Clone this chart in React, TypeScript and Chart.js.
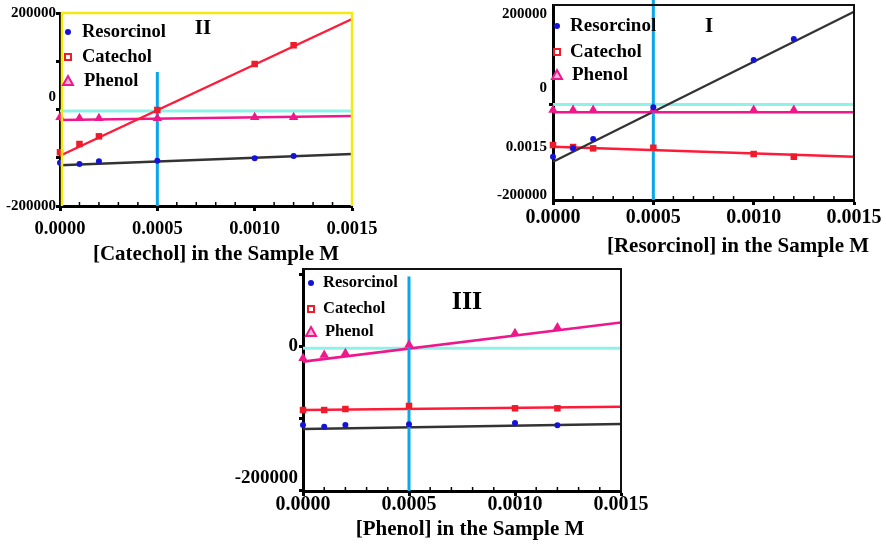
import React, { useEffect, useRef } from "react";
import { Chart, registerables } from "chart.js";

Chart.register(...registerables);
Chart.defaults.font.family = "'Liberation Serif', 'Times New Roman', serif";
Chart.defaults.color = "#000";

// ---------- shared data ----------
const xConc = [0, 0.0001, 0.0002, 0.0005, 0.001, 0.0012];
const fitX = [0, 0.0015];
const seriesNames = ["Resorcinol", "Catechol", "Phenol"];
const xTickValues = [0, 0.0005, 0.001, 0.0015];
const xTickLabels = ["0.0000", "0.0005", "0.0010", "0.0015"];
const minorStep = 0.0001;
const markerX = 0.0005;

// ---------- Panel II (Catechol varied) ----------
const resorcinolII = [-110300, -113000, -107400, -106100, -101200, -96400];
const catecholII = [-88700, -71500, -55600, -1000, 94300, 133100];
const phenolII = [-16200, -18300, -18300, -18300, -16200, -16200];
const resorcinolFitII = [-115700, -92200];
const catecholFitII = [-95800, 187600];
const phenolFitII = [-21800, -13500];
const refLevelII = -3000;
const vLineTopII = 77700;
const yTickValuesII = [200000, 25900, -200000];
const yTickLabelsII = ["200000", "0", "-200000"];
const yTickMarksII = [200000, 100000, 0, -100000, -200000];

// ---------- Panel I (Resorcinol varied) ----------
const resorcinolI = [-115400, -96800, -76200, -6200, 98300, 144800];
const catecholI = [-89500, -93900, -96800, -95500, -109400, -115400];
const phenolI = [-12200, -12200, -12200, -12200, -12200, -12200];
const resorcinolFitI = [-126400, 205100];
const catecholFitI = [-93200, -115400];
const phenolFitI = [-17200, -17200];
const refLevelI = 0;
const vLineTopI = 231000;
const yTickValuesI = [200000, 35800, -93300, -200000];
const yTickLabelsI = ["200000", "0", "0.0015", "-200000"];
const yTickMarksI = [0];

// ---------- Panel III (Phenol varied) ----------
const resorcinolIII = [-109200, -111600, -109200, -108200, -106400, -109600];
const catecholIII = [-88300, -88300, -86900, -82600, -85900, -85900];
const phenolIII = [-16200, -11600, -9200, 2400, 18700, 26500];
const resorcinolFitIII = [-114700, -107800];
const catecholFitIII = [-88300, -83700];
const phenolFitIII = [-20900, 33500];
const refLevelIII = -2200;
const vLineTopIII = 97600;
const yTickValuesIII = [0, -183000];
const yTickLabelsIII = ["0", "-200000"];
const yTickMarksIII = [100000, 0, -100000, -200000];

const COLORS = {
  blueDot: "#1414d8",
  red: "#ee1b2b",
  redLine: "#ff1a38",
  pink: "#f0168c",
  black: "#333333",
  cyan: "#8ef3e6",
  vline: "#0aa6e8",
};

type Box = { left: number; top: number; width: number; height: number };
type Area = { left: number; top: number; right: number; bottom: number };

type PanelCfg = {
  canvas: Box;
  area: Area;
  yMin: number;
  yMax: number;
  resorcinol: number[];
  catechol: number[];
  phenol: number[];
  resorcinolFit: number[];
  catecholFit: number[];
  phenolFit: number[];
  refLevel: number;
  vLineTop: number;
  yTickValues: number[];
  yTickLabels: string[];
  yTickMarks: number[];
  yTickSize: number;
  yTickPad: number;
  xTickSize: number;
  xTickPad: number;
  frame: "yellow" | "black";
  title: string;
  titlePos: [number, number];
  panelLabel: string;
  labelPos: [number, number];
  labelSize: number;
  legendMarkerX: number;
  legendTextX: number;
  legendRows: number[];
  legendSize: number;
};

const panels: PanelCfg[] = [
  {
    canvas: { left: 0, top: 0, width: 385, height: 265 },
    area: { left: 60, top: 13, right: 352, bottom: 206 },
    yMin: -200000,
    yMax: 200000,
    resorcinol: resorcinolII,
    catechol: catecholII,
    phenol: phenolII,
    resorcinolFit: resorcinolFitII,
    catecholFit: catecholFitII,
    phenolFit: phenolFitII,
    refLevel: refLevelII,
    vLineTop: vLineTopII,
    yTickValues: yTickValuesII,
    yTickLabels: yTickLabelsII,
    yTickMarks: yTickMarksII,
    yTickSize: 15,
    yTickPad: 0,
    xTickSize: 18.5,
    xTickPad: 7,
    frame: "yellow",
    title: "[Catechol] in the Sample M",
    titlePos: [216, 255],
    panelLabel: "II",
    labelPos: [203, 29],
    labelSize: 21,
    legendMarkerX: 68,
    legendTextX: 82,
    legendRows: [32, 57, 81],
    legendSize: 18.5,
  },
  {
    canvas: { left: 490, top: -12, width: 396, height: 272 },
    area: { left: 553, top: 5, right: 854, bottom: 200 },
    yMin: -211000,
    yMax: 220000,
    resorcinol: resorcinolI,
    catechol: catecholI,
    phenol: phenolI,
    resorcinolFit: resorcinolFitI,
    catecholFit: catecholFitI,
    phenolFit: phenolFitI,
    refLevel: refLevelI,
    vLineTop: vLineTopI,
    yTickValues: yTickValuesI,
    yTickLabels: yTickLabelsI,
    yTickMarks: yTickMarksI,
    yTickSize: 15,
    yTickPad: 2,
    xTickSize: 20,
    xTickPad: 1,
    frame: "black",
    title: "[Resorcinol] in the Sample M",
    titlePos: [738, 247],
    panelLabel: "I",
    labelPos: [709, 27],
    labelSize: 21,
    legendMarkerX: 557,
    legendTextX: 570,
    legendRows: [26, 52, 75],
    legendSize: 19,
  },
  {
    canvas: { left: 225, top: 256, width: 430, height: 290 },
    area: { left: 303, top: 269, right: 621, bottom: 491 },
    yMin: -201000,
    yMax: 108000,
    resorcinol: resorcinolIII,
    catechol: catecholIII,
    phenol: phenolIII,
    resorcinolFit: resorcinolFitIII,
    catecholFit: catecholFitIII,
    phenolFit: phenolFitIII,
    refLevel: refLevelIII,
    vLineTop: vLineTopIII,
    yTickValues: yTickValuesIII,
    yTickLabels: yTickLabelsIII,
    yTickMarks: yTickMarksIII,
    yTickSize: 19,
    yTickPad: 1,
    xTickSize: 20,
    xTickPad: -3,
    frame: "black",
    title: "[Phenol] in the Sample M",
    titlePos: [470, 530],
    panelLabel: "III",
    labelPos: [467, 302],
    labelSize: 26,
    legendMarkerX: 311,
    legendTextX: 323,
    legendRows: [283, 309, 332],
    legendSize: 16.5,
  },
];

function drawMarker(ctx: CanvasRenderingContext2D, kind: number, x: number, y: number) {
  ctx.save();
  if (kind === 0) {
    ctx.fillStyle = COLORS.blueDot;
    ctx.beginPath();
    ctx.arc(x, y, 3, 0, Math.PI * 2);
    ctx.fill();
  } else if (kind === 1) {
    ctx.fillStyle = "#fff";
    ctx.strokeStyle = COLORS.red;
    ctx.lineWidth = 2;
    ctx.fillRect(x - 3, y - 3, 6, 6);
    ctx.strokeRect(x - 3, y - 3, 6, 6);
  } else {
    ctx.fillStyle = "#f9b6d8";
    ctx.strokeStyle = COLORS.pink;
    ctx.lineWidth = 2;
    ctx.beginPath();
    ctx.moveTo(x, y - 5);
    ctx.lineTo(x + 5, y + 4);
    ctx.lineTo(x - 5, y + 4);
    ctx.closePath();
    ctx.fill();
    ctx.stroke();
  }
  ctx.restore();
}

function Panel({ cfg }: { cfg: PanelCfg }) {
  const ref = useRef<HTMLCanvasElement>(null);

  useEffect(() => {
    const c = cfg;
    const cl = c.canvas.left;
    const ct = c.canvas.top;
    const pts = (ys: number[]) => xConc.map((x, i) => ({ x, y: ys[i] }));
    const fit = (ys: number[]) => fitX.map((x, i) => ({ x, y: ys[i] }));
    const allYTicks = Array.from(new Set([...c.yTickValues, ...c.yTickMarks]));

    const overlay = {
      id: "overlay",
      afterDraw(chart: any) {
        const ctx: CanvasRenderingContext2D = chart.ctx;
        const a = chart.chartArea;
        const xs = chart.scales.x;
        ctx.save();
        if (c.frame === "yellow") {
          ctx.strokeStyle = "#f4ea12";
          ctx.lineWidth = 2.5;
          ctx.beginPath();
          ctx.moveTo(a.left + 2, a.bottom);
          ctx.lineTo(a.left + 2, a.top);
          ctx.lineTo(a.right, a.top);
          ctx.lineTo(a.right, a.bottom);
          ctx.stroke();
        } else {
          ctx.strokeStyle = "#111";
          ctx.lineWidth = 2;
          ctx.beginPath();
          ctx.moveTo(a.left, a.top);
          ctx.lineTo(a.right, a.top);
          ctx.lineTo(a.right, a.bottom);
          ctx.stroke();
        }
        // minor inward ticks on x axis
        ctx.strokeStyle = "#000";
        ctx.lineWidth = 1.5;
        const n = Math.round(0.0015 / minorStep);
        for (let k = 1; k < n; k++) {
          if (k % 5 === 0) continue;
          const px = xs.getPixelForValue(k * minorStep);
          ctx.beginPath();
          ctx.moveTo(px, a.bottom - 1);
          ctx.lineTo(px, a.bottom - 4);
          ctx.stroke();
        }
        // legend
        ctx.textBaseline = "middle";
        ctx.textAlign = "left";
        ctx.font = `bold ${c.legendSize}px 'Liberation Serif', serif`;
        seriesNames.forEach((name, i) => {
          const y = c.legendRows[i] - ct;
          drawMarker(ctx, i, c.legendMarkerX - cl, y);
          ctx.fillStyle = "#000";
          ctx.fillText(name, c.legendTextX - cl + (i === 2 ? 2 : 0), y);
        });
        // panel label
        ctx.fillStyle = "#000";
        ctx.textAlign = "center";
        ctx.font = `bold ${c.labelSize}px 'Liberation Serif', serif`;
        ctx.fillText(c.panelLabel, c.labelPos[0] - cl, c.labelPos[1] - ct);
        // axis title
        ctx.font = `bold 21px 'Liberation Serif', serif`;
        ctx.fillText(c.title, c.titlePos[0] - cl, c.titlePos[1] - ct);
        ctx.restore();
      },
    };

    const chart = new Chart(ref.current as HTMLCanvasElement, {
      type: "scatter",
      data: {
        datasets: [
          {
            label: seriesNames[0],
            data: pts(c.resorcinol),
            pointStyle: "circle",
            pointRadius: 3,
            pointBackgroundColor: COLORS.blueDot,
            pointBorderColor: COLORS.blueDot,
            pointBorderWidth: 0,
            clip: false as any,
            order: 0,
          },
          {
            label: seriesNames[1],
            data: pts(c.catechol),
            pointStyle: "rect",
            pointRadius: 4.6,
            pointBackgroundColor: COLORS.red,
            pointBorderColor: COLORS.red,
            pointBorderWidth: 0,
            clip: false as any,
            order: 0,
          },
          {
            label: seriesNames[2],
            data: pts(c.phenol),
            pointStyle: "triangle",
            pointRadius: 5.5,
            pointBackgroundColor: COLORS.pink,
            pointBorderColor: COLORS.pink,
            pointBorderWidth: 0,
            clip: false as any,
            order: 0,
          },
          {
            label: "vline",
            data: [
              { x: markerX, y: c.yMin },
              { x: markerX, y: c.vLineTop },
            ],
            showLine: true,
            borderColor: COLORS.vline,
            borderWidth: 3,
            pointRadius: 0,
            clip: false as any,
            order: 1,
          },
          {
            label: "Resorcinol fit",
            data: fit(c.resorcinolFit),
            showLine: true,
            borderColor: COLORS.black,
            borderWidth: 2.4,
            pointRadius: 0,
            order: 2,
          },
          {
            label: "Catechol fit",
            data: fit(c.catecholFit),
            showLine: true,
            borderColor: COLORS.redLine,
            borderWidth: 2.4,
            pointRadius: 0,
            order: 2,
          },
          {
            label: "Phenol fit",
            data: fit(c.phenolFit),
            showLine: true,
            borderColor: COLORS.pink,
            borderWidth: 2.6,
            pointRadius: 0,
            order: 2,
          },
          {
            label: "ref",
            data: fitX.map((x) => ({ x, y: c.refLevel })),
            showLine: true,
            borderColor: COLORS.cyan,
            borderWidth: 3,
            pointRadius: 0,
            order: 3,
          },
        ],
      },
      options: {
        responsive: false,
        animation: false,
        devicePixelRatio: 1,
        layout: {
          padding: {
            left: 0,
            top: c.area.top - ct,
            right: cl + c.canvas.width - c.area.right,
            bottom: 0,
          },
        },
        plugins: {
          legend: { display: false },
          tooltip: { enabled: false },
          title: { display: false },
        },
        scales: {
          x: {
            type: "linear",
            min: 0,
            max: 0.0015,
            afterFit: (s: any) => {
              s.height = ct + c.canvas.height - c.area.bottom;
            },
            afterBuildTicks: (s: any) => {
              s.ticks = xTickValues.map((v) => ({ value: v }));
            },
            ticks: {
              autoSkip: false,
              maxRotation: 0,
              padding: c.xTickPad,
              font: { size: c.xTickSize, weight: "bold" },
              callback: (_v: any, i: number) => xTickLabels[i],
            },
            grid: {
              drawOnChartArea: false,
              tickLength: 5,
              tickWidth: 3,
              tickColor: "#000",
            },
            border: { color: "#000", width: 3 },
          },
          y: {
            type: "linear",
            min: c.yMin,
            max: c.yMax,
            afterFit: (s: any) => {
              s.width = c.area.left - cl;
            },
            afterBuildTicks: (s: any) => {
              s.ticks = allYTicks.map((v) => ({ value: v }));
            },
            ticks: {
              autoSkip: false,
              padding: c.yTickPad,
              font: { size: c.yTickSize, weight: "bold" },
              callback: (v: any) => {
                const i = c.yTickValues.indexOf(v);
                return i >= 0 ? c.yTickLabels[i] : "";
              },
            },
            grid: {
              drawOnChartArea: false,
              tickLength: 4,
              tickWidth: 3,
              tickColor: (ctx: any) =>
                ctx.tick && c.yTickMarks.includes(ctx.tick.value) ? "#000" : "rgba(0,0,0,0)",
            },
            border: { color: "#000", width: 3 },
          },
        },
      } as any,
      plugins: [overlay],
    });
    return () => chart.destroy();
  }, [cfg]);

  return (
    <canvas
      ref={ref}
      width={cfg.canvas.width}
      height={cfg.canvas.height}
      style={{
        position: "absolute",
        left: cfg.canvas.left,
        top: cfg.canvas.top,
        width: cfg.canvas.width,
        height: cfg.canvas.height,
      }}
    />
  );
}

export default function App() {
  return (
    <div
      style={{
        position: "fixed",
        left: 0,
        top: 0,
        width: 886,
        height: 546,
        background: "#fff",
        overflow: "hidden",
      }}
    >
      {panels.map((p, i) => (
        <Panel key={i} cfg={p} />
      ))}
    </div>
  );
}
